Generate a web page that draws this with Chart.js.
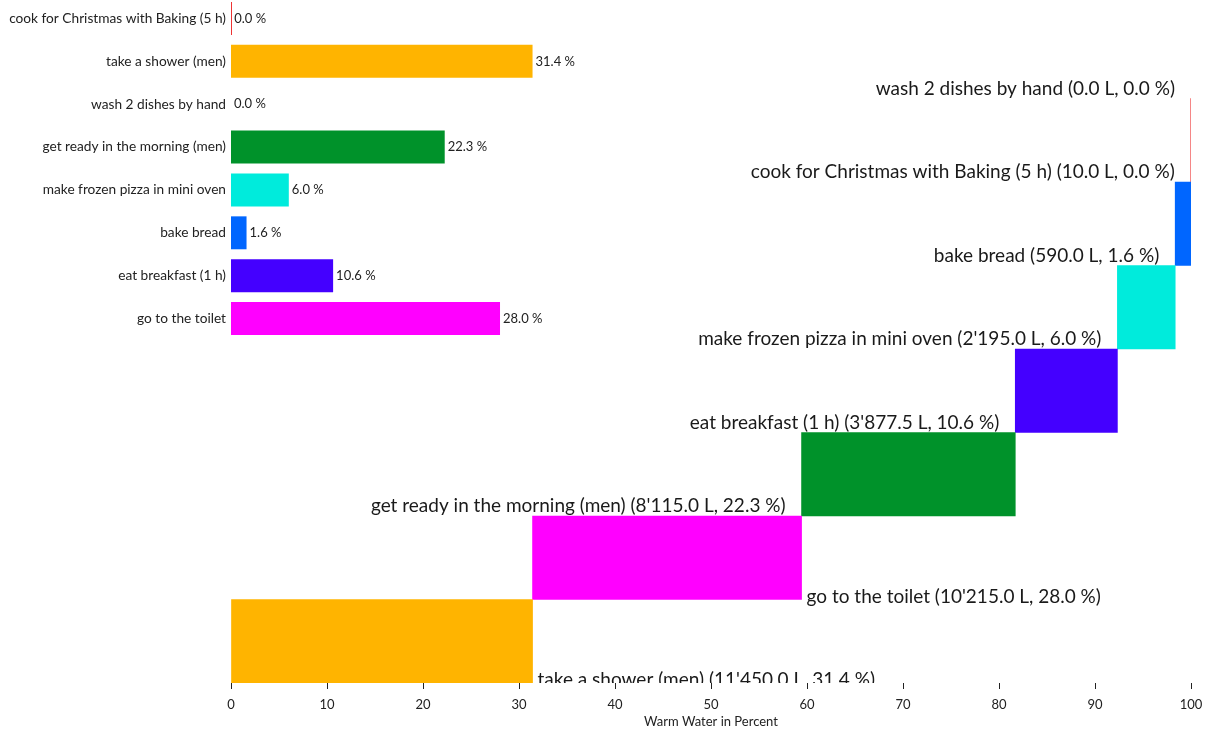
<!DOCTYPE html>
<html>
<head>
<meta charset="utf-8">
<script src="https://cdn.jsdelivr.net/npm/chart.js@4.4.1/dist/chart.umd.min.js"></script>
<style>
  html, body { margin: 0; padding: 0; background: #fff; }
  #wrap { position: relative; width: 1214px; height: 734px; overflow: hidden; }
  #main { position: absolute; left: 0; top: 0; }
  #inset { position: absolute; left: 0; top: -3px; }
</style>
</head>
<body>
<div id="wrap">
  <canvas id="main" width="1214" height="734"></canvas>
  <canvas id="inset" width="1214" height="343"></canvas>
</div>
<script>
// activities in the order of the small overview chart
const activities = [
    'cook for Christmas with Baking (5 h)',
    'take a shower (men)',
    'wash 2 dishes by hand',
    'get ready in the morning (men)',
    'make frozen pizza in mini oven',
    'bake bread',
    'eat breakfast (1 h)',
    'go to the toilet'
];
const liters = [10, 11450, 0, 8115, 2195, 590, 3877.5, 10215];
const colors = ['#ee3333', '#ffb400', '#8a8a8a', '#00922a', '#00ebdc', '#0066ff', '#4400ff', '#ff00ff'];
const xTicks = [0, 10, 20, 30, 40, 50, 60, 70, 80, 90, 100];
const axisTitle = 'Warm Water in Percent';

const FONT = 'Lato';
const TEXT = '#222';

const total = liters.reduce((a, b) => a + b, 0);
const percent = liters.map(v => v / total * 100);

function fmtLiters(v) {
    const parts = v.toFixed(1).split('.');
    parts[0] = parts[0].replace(/\B(?=(\d{3})+(?!\d))/g, "'");
    return parts.join('.');
}

// staircase: smallest on top, largest at the bottom starting at 0
const order = activities.map((_, i) => i).sort((a, b) => liters[a] - liters[b]);
const spans = {};
let acc = 0;
order.slice().reverse().forEach(i => {
    spans[i] = [acc, acc + percent[i]];
    acc += percent[i];
});
const mainLabels = order.map(i => activities[i]);
const mainData = order.map(i => spans[i]);

const stairLabels = {
    id: 'stairLabels',
    afterDatasetsDraw(chart) {
        const { ctx, chartArea, scales: { x } } = chart;
        const meta = chart.getDatasetMeta(0);
        ctx.save();
        ctx.beginPath();
        ctx.rect(chartArea.left, chartArea.top, chartArea.right - chartArea.left, chartArea.bottom - chartArea.top);
        ctx.clip();
        ctx.font = '19px ' + FONT;
        ctx.fillStyle = '#1a1a1a';
        ctx.textBaseline = 'alphabetic';
        meta.data.forEach((bar, k) => {
            const i = order[k];
            const text = `${activities[i]} (${fmtLiters(liters[i])} L, ${percent[i].toFixed(1)} %)`;
            const w = ctx.measureText(text).width;
            const rowBottom = bar.y + bar.height / 2;
            const xs = x.getPixelForValue(mainData[k][0]);
            const xe = x.getPixelForValue(mainData[k][1]);
            if (xe + 5 + w <= chartArea.right) {
                ctx.textAlign = 'left';
                ctx.fillText(text, xe + 5, rowBottom + 3);
            } else {
                ctx.textAlign = 'right';
                ctx.fillText(text, xs - 16, rowBottom - 4);
            }
        });
        ctx.restore();
    }
};

new Chart(document.getElementById('main'), {
    type: 'bar',
    data: {
        labels: mainLabels,
        datasets: [{
            data: mainData,
            backgroundColor: ctx => liters[order[ctx.dataIndex]] > 0 ? colors[order[ctx.dataIndex]] : 'transparent',
            borderWidth: 0,
            categoryPercentage: 1,
            barPercentage: 1,
            minBarLength: 1
        }]
    },
    options: {
        responsive: false,
        animation: false,
        indexAxis: 'y',
        layout: { padding: { left: 231, right: 23, top: 15, bottom: 0 } },
        plugins: { legend: { display: false }, tooltip: { enabled: false } },
        scales: {
            x: {
                min: 0,
                max: 100,
                afterBuildTicks: scale => { scale.ticks = xTicks.map(v => ({ value: v })); },
                afterFit: scale => { scale.height = 51; },
                grid: { drawOnChartArea: false, drawTicks: true, tickLength: 6, color: TEXT, tickColor: TEXT },
                border: { display: false },
                ticks: { font: { family: FONT, size: 13 }, color: TEXT, padding: 8, maxRotation: 0 },
                title: {
                    display: true,
                    text: axisTitle,
                    font: { family: FONT, size: 13 },
                    color: TEXT,
                    padding: { top: 0, bottom: 4 }
                }
            },
            y: { display: false }
        }
    },
    plugins: [stairLabels]
});

const valueLabels = {
    id: 'valueLabels',
    afterDatasetsDraw(chart) {
        const { ctx, scales: { x } } = chart;
        const meta = chart.getDatasetMeta(0);
        ctx.save();
        ctx.font = '13px ' + FONT;
        ctx.fillStyle = TEXT;
        ctx.textAlign = 'left';
        ctx.textBaseline = 'middle';
        meta.data.forEach((bar, i) => {
            ctx.fillText(percent[i].toFixed(1) + ' %', x.getPixelForValue(percent[i]) + 3, bar.y);
        });
        ctx.restore();
    }
};

new Chart(document.getElementById('inset'), {
    type: 'bar',
    data: {
        labels: activities,
        datasets: [{
            data: percent,
            backgroundColor: ctx => liters[ctx.dataIndex] > 0 ? colors[ctx.dataIndex] : 'transparent',
            borderWidth: 0,
            barPercentage: 0.96,
            categoryPercentage: 0.8,
            minBarLength: 1
        }]
    },
    options: {
        responsive: false,
        animation: false,
        indexAxis: 'y',
        layout: { padding: { left: 0, right: 23, top: 0, bottom: 0 } },
        plugins: { legend: { display: false }, tooltip: { enabled: false } },
        scales: {
            x: { display: false, min: 0, max: 100 },
            y: {
                afterFit: scale => {
                    scale.width = 231;
                    scale.paddingTop = 0;
                    scale.paddingBottom = 0;
                },
                grid: { display: false, drawTicks: false },
                border: { display: false },
                ticks: { font: { family: FONT, size: 13.7 }, color: TEXT, padding: 5 }
            }
        }
    },
    plugins: [valueLabels]
});
</script>
</body>
</html>
